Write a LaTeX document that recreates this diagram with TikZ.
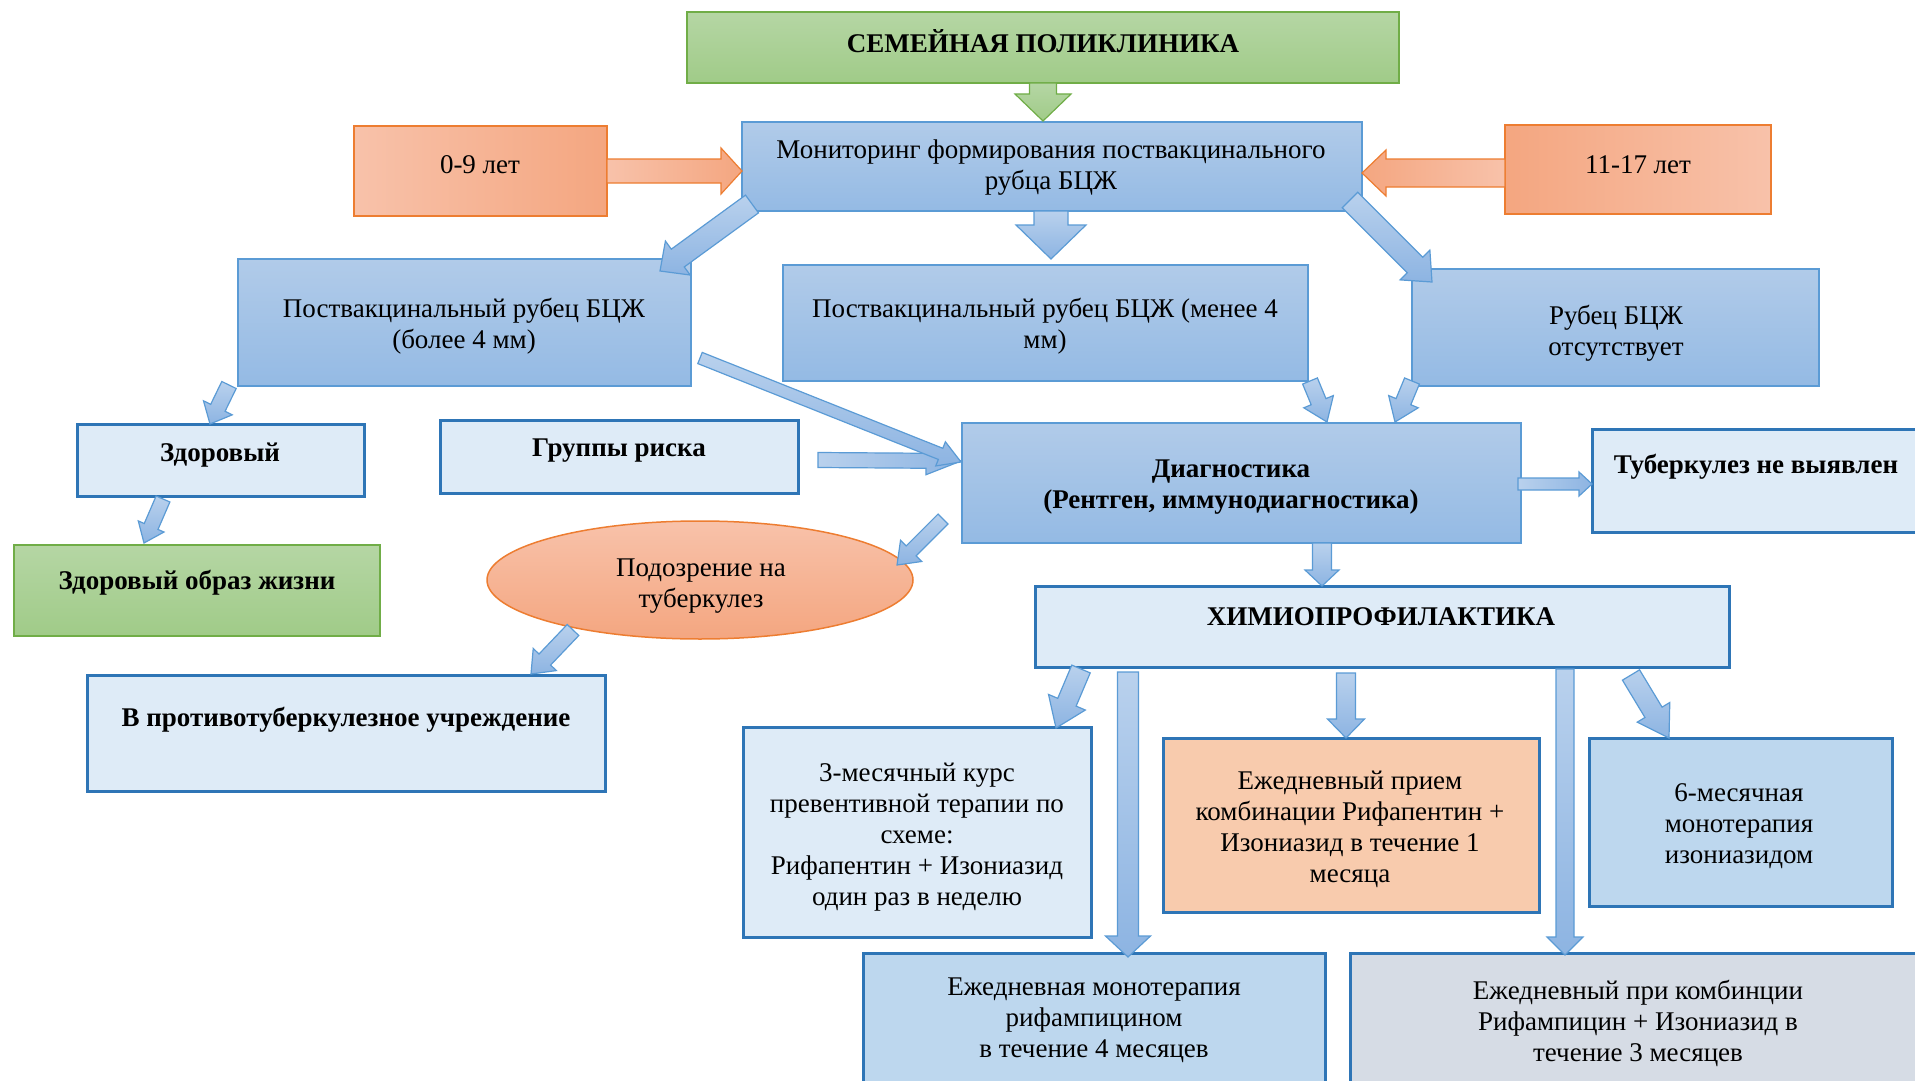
\documentclass[tikz,border=0pt]{standalone}
\usepackage{fontspec}
\setmainfont{Liberation Serif}
\usetikzlibrary{calc,shapes.geometric}

\definecolor{gTop}{RGB}{181,214,164}
\definecolor{gBot}{RGB}{160,203,136}
\definecolor{gLine}{RGB}{112,173,71}
\definecolor{bTop}{RGB}{177,203,233}
\definecolor{bBot}{RGB}{148,186,228}
\definecolor{bLine}{RGB}{91,155,213}
\definecolor{aTop}{RGB}{185,209,237}
\definecolor{aBot}{RGB}{141,180,226}
\definecolor{oLight}{RGB}{248,194,170}
\definecolor{oDark}{RGB}{244,166,128}
\definecolor{oLine}{RGB}{237,125,49}
\definecolor{lightFill}{RGB}{222,235,247}
\definecolor{darkLine}{RGB}{46,117,182}
\definecolor{peach}{RGB}{248,203,173}
\definecolor{paleBlue}{RGB}{189,215,238}
\definecolor{grayBlue}{RGB}{214,220,229}

\tikzset{
  box/.style={rectangle, inner sep=0pt, outer sep=0pt, anchor=north west},
  bluebox/.style={box, top color=bTop, bottom color=bBot, draw=bLine, line width=1.5pt},
  greenbox/.style={box, top color=gTop, bottom color=gBot, draw=gLine, line width=1.5pt},
  orangeL/.style={box, left color=oLight, right color=oDark, draw=oLine, line width=1.5pt},
  orangeR/.style={box, left color=oDark, right color=oLight, draw=oLine, line width=1.5pt},
  lightbox/.style={box, fill=lightFill, draw=darkLine, line width=3pt},
  peachbox/.style={box, fill=peach, draw=darkLine, line width=3pt},
  palebox/.style={box, fill=paleBlue, draw=darkLine, line width=3pt},
  graybox/.style={box, fill=grayBlue, draw=darkLine, line width=3pt},
  txt/.style={align=center, inner sep=0pt, yshift=-3pt, font=\fontsize{27}{31}\selectfont},
  btxt/.style={align=center, inner sep=0pt, yshift=-3pt, font=\fontsize{27}{31}\selectfont\bfseries},
  barB/.style={top color=aTop, bottom color=aBot, draw=bLine, line width=1.2pt},
  barBh/.style={left color=aTop, right color=aBot, draw=bLine, line width=1.2pt},
  barG/.style={top color=gTop, bottom color=gBot, draw=gLine, line width=1.2pt},
  barOL/.style={left color=oLight, right color=oDark, draw=oLine, line width=1.2pt},
  barOR/.style={left color=oDark, right color=oLight, draw=oLine, line width=1.2pt},
}

\newcommand\mybox[6]{%
  \node[#1, minimum width={(#5-#3)*1pt}, minimum height={(#6-#4)*1pt}] (#2) at (#3,#4) {};}

% style, from, to, stem half width, head half width, head length
\newcommand\barrow[6]{%
  \coordinate (ba-c) at ($(#3)!#6pt!(#2)$);
  \path[#1] ($(#2)!#4pt!90:(#3)$) -- ($(ba-c)!#4pt!-90:(#2)$) -- ($(ba-c)!#5pt!-90:(#2)$)
    -- (#3) -- ($(ba-c)!#5pt!90:(#2)$) -- ($(ba-c)!#4pt!90:(#2)$) -- ($(#2)!#4pt!-90:(#3)$) -- cycle;}

\begin{document}
\begin{tikzpicture}[x=1pt,y=-1pt]
\useasboundingbox (0,0) rectangle (1915,1081);
\clip (0,0) rectangle (1915,1081);

% boxes
\mybox{greenbox}{sem}{687}{12}{1399}{83}
\mybox{bluebox}{mon}{742}{122}{1362}{211}
\mybox{orangeL}{a09}{354}{126}{607}{216}
\mybox{orangeR}{a1117}{1505}{125}{1771}{214}
\mybox{bluebox}{more4}{238}{259}{691}{386}
\mybox{bluebox}{less4}{783}{265}{1308}{381}
\mybox{bluebox}{nosc}{1412}{269}{1819}{386}
\mybox{lightbox}{healthy}{77}{424}{364}{496}
\mybox{lightbox}{risk}{440}{420}{798}{493}
\mybox{bluebox}{diag}{962}{423}{1521}{543}
\mybox{lightbox}{notb}{1592}{429}{1935}{532}
\mybox{greenbox}{hls}{14}{545}{380}{636}
\node[ellipse, inner sep=0pt, minimum width=426pt, minimum height=118pt,
      top color=oLight, bottom color=oDark, draw=oLine, line width=1.5pt] (susp) at (700,580) {};
\mybox{lightbox}{antitb}{87}{675}{605}{791}
\mybox{lightbox}{chemo}{1035}{586}{1729}{667}
\mybox{lightbox}{m3}{743}{727}{1091}{937}
\mybox{peachbox}{d1}{1163}{738}{1539}{912}
\mybox{palebox}{m6}{1589}{738}{1892}{906}
\mybox{palebox}{r4}{863}{953}{1325}{1100}
\mybox{graybox}{r3}{1350}{953}{1935}{1100}

% texts
\node[btxt] (semT) at (1043,38) {СЕМЕЙНАЯ ПОЛИКЛИНИКА};
\node[txt] (monT) at (1051,165) {Мониторинг формирования поствакцинального\\рубца БЦЖ};
\node[txt] (a09T) at (480,162) {0-9 лет};
\node[txt] (a1117T) at (1638,162) {11-17 лет};
\node[txt] (more4T) at (464,323) {Поствакцинальный рубец БЦЖ\\(более 4 мм)};
\node[txt] (less4T) at (1045,323) {Поствакцинальный рубец БЦЖ (менее 4\\мм)};
\node[txt] (noscT) at (1616,330) {Рубец БЦЖ\\отсутствует};
\node[btxt] (healthyT) at (220,452) {Здоровый};
\node[btxt] (riskT) at (619,448) {Группы риска};
\node[btxt] (diagT) at (1231,484) {Диагностика\\(Рентген, иммунодиагностика)};
\node[btxt] (notbT) at (1756,464) {Туберкулез не выявлен};
\node[btxt] (hlsT) at (197,580) {Здоровый образ жизни};
\node[txt] (suspT) at (701,583) {Подозрение на\\туберкулез};
\node[btxt] (antitbT) at (346,717) {В противотуберкулезное учреждение};
\node[btxt] (chemoT) at (1381,614) {ХИМИОПРОФИЛАКТИКА};
\node[txt] (m3T) at (917,834) {3-месячный курс\\превентивной терапии по\\схеме:\\Рифапентин + Изониазид\\один раз в неделю};
\node[txt] (d1T) at (1350,826) {Ежедневный прием\\комбинации Рифапентин +\\Изониазид в течение 1\\месяца};
\node[txt] (m6T) at (1739,823) {6-месячная\\монотерапия\\изониазидом};
\node[txt] (r4T) at (1094,1017) {Ежедневная монотерапия\\рифампицином\\в течение 4 месяцев};
\node[txt] (r3T) at (1638,1020) {Ежедневный при комбинции\\Рифампицин + Изониазид в\\течение 3 месяцев};

% arrow end points
\coordinate (g1s) at (1043,83);   \coordinate (g1e) at (1043,121);
\coordinate (o1s) at (607,171);   \coordinate (o1e) at (742,171);
\coordinate (o2s) at (1505,173);  \coordinate (o2e) at (1362,173);
\coordinate (d1s) at (752,204);   \coordinate (d1e) at (660,271);
\coordinate (m1s) at (1051,211);  \coordinate (m1e) at (1051,259);
\coordinate (d2s) at (1350,200);  \coordinate (d2e) at (1432,282);
\coordinate (s1s) at (1310,381);  \coordinate (s1e) at (1327,422);
\coordinate (s2s) at (1412,381);  \coordinate (s2e) at (1395,422);
\coordinate (t1s) at (1518,484);  \coordinate (t1e) at (1592,484);
\coordinate (r1s) at (818,460);   \coordinate (r1e) at (961,461);
\coordinate (l1s) at (700,358);   \coordinate (l1e) at (961,462);
\coordinate (h1s) at (229,385);   \coordinate (h1e) at (210,424);
\coordinate (h2s) at (163,499);   \coordinate (h2e) at (144,543);
\coordinate (e1s) at (943,519);   \coordinate (e1e) at (897,565);
\coordinate (e2s) at (573,630);   \coordinate (e2e) at (531,674);
\coordinate (c0s) at (1322,543);  \coordinate (c0e) at (1322,586);
\coordinate (c1s) at (1081,669);  \coordinate (c1e) at (1056,728);
\coordinate (c2s) at (1128,672);  \coordinate (c2e) at (1128,957);
\coordinate (c3s) at (1346,673);  \coordinate (c3e) at (1346,738);
\coordinate (c4s) at (1565,669);  \coordinate (c4e) at (1565,955);
\coordinate (c5s) at (1631,675);  \coordinate (c5e) at (1669,738);

% arrows
\barrow{barG}{g1s}{g1e}{13.5}{28}{27}
\barrow{barOL}{o1s}{o1e}{12}{23}{21}
\barrow{barOR}{o2s}{o2e}{14}{23}{24}
\barrow{barB}{d1s}{d1e}{11}{21}{22}
\barrow{barB}{m1s}{m1e}{17}{35}{34}
\barrow{barB}{d2s}{d2e}{11}{21}{24}
\barrow{barB}{s1s}{s1e}{8}{16}{22}
\barrow{barB}{s2s}{s2e}{8}{16}{22}
\barrow{barBh}{t1s}{t1e}{6}{12}{13}
\barrow{barBh}{r1s}{r1e}{7.5}{14}{35}
\barrow{barB}{l1s}{l1e}{6}{13}{22}
\barrow{barB}{h1s}{h1e}{8}{16}{18}
\barrow{barB}{h2s}{h2e}{7.5}{14}{18}
\barrow{barB}{e1s}{e1e}{7}{15}{20}
\barrow{barB}{e2s}{e2e}{8}{16}{20}
\barrow{barB}{c0s}{c0e}{9.5}{17}{16}
\barrow{barB}{c1s}{c1e}{10}{20}{28}
\barrow{barB}{c2s}{c2e}{10.5}{22.5}{21}
\barrow{barB}{c3s}{c3e}{9.5}{18.5}{19}
\barrow{barB}{c4s}{c4e}{9}{18}{18}
\barrow{barB}{c5s}{c5e}{10}{19}{30}
\end{tikzpicture}
\end{document}
